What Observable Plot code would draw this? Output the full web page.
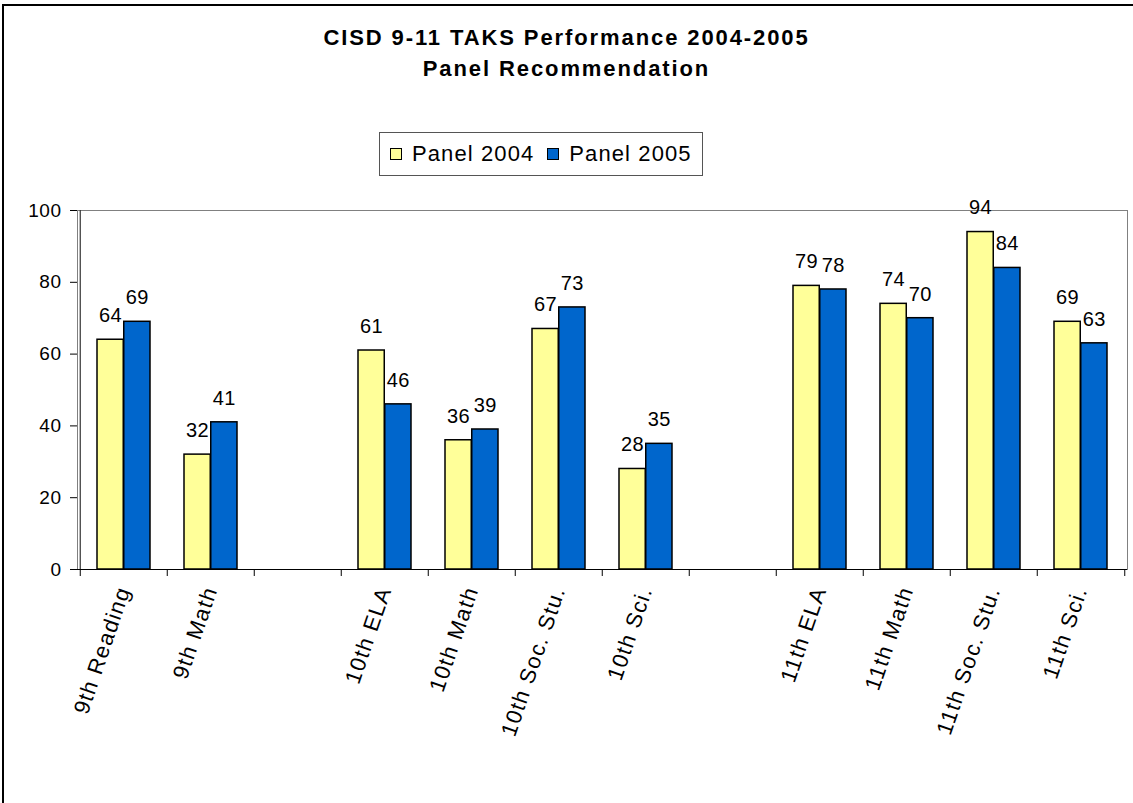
<!DOCTYPE html>
<html>
<head>
<meta charset="utf-8">
<script src="https://cdn.jsdelivr.net/npm/d3@7"></script>
<script src="https://cdn.jsdelivr.net/npm/@observablehq/plot@0.6"></script>
<style>
  html, body { margin: 0; padding: 0; background: #fff; width: 1133px; height: 803px; overflow: hidden; }
  body { font-family: "Liberation Sans", Arial, sans-serif; position: relative; }
  #frame { position: absolute; left: 2px; top: 4px; width: 1200px; height: 900px; border-top: 2px solid #000; border-left: 2px solid #000; box-sizing: border-box; pointer-events: none; z-index: 5; }
  #header { position: relative; height: 190px; }
  #title { position: absolute; left: 0; width: 1133px; top: 22px; text-align: center; font-weight: bold; font-size: 22px; line-height: 31px; letter-spacing: 1.9px; color: #000; }
  #legend { position: absolute; left: 379px; top: 132px; width: 322px; height: 42px; border: 1px solid #555; box-sizing: content-box; display: flex; align-items: center; font-size: 22px; letter-spacing: 1.1px; }
  .item { display: flex; align-items: center; margin-left: 10px; }
  .item + .item { margin-left: 13px; }
  .sw { width: 10px; height: 10px; border: 1px solid #000; margin-right: 10px; }
  #chart { position: relative; }
  #chart svg { letter-spacing: 0.5px; }
  #chart svg g[aria-label="x-axis tick label"] { letter-spacing: 1.3px; }
</style>
</head>
<body>
<div id="frame"></div>
<div id="header">
  <div id="title">CISD 9-11 TAKS Performance 2004-2005<br>Panel Recommendation</div>
  <div id="legend"></div>
</div>
<div id="chart"></div>
<script>
// ---- data ----
const slots = ["9th Reading", "9th Math", " ", "10th ELA", "10th Math", "10th Soc. Stu.", "10th Sci.", "  ", "11th ELA", "11th Math", "11th Soc. Stu.", "11th Sci."];
const categories = ["9th Reading", "9th Math", "10th ELA", "10th Math", "10th Soc. Stu.", "10th Sci.", "11th ELA", "11th Math", "11th Soc. Stu.", "11th Sci."];
const panel2004 = [64, 32, 61, 36, 67, 28, 79, 74, 94, 69];
const panel2005 = [69, 41, 46, 39, 73, 35, 78, 70, 84, 63];
const seriesNames = ["Panel 2004", "Panel 2005"];
const seriesColors = ["#FFFF99", "#0066CC"];
const yTicks = [0, 20, 40, 60, 80, 100];

const d2004 = categories.map((c, i) => ({cat: c, value: panel2004[i]}));
const d2005 = categories.map((c, i) => ({cat: c, value: panel2005[i]}));

// legend
const legend = document.getElementById("legend");
seriesNames.forEach((s, i) => {
  const it = document.createElement("div");
  it.className = "item";
  const sw = document.createElement("div");
  sw.className = "sw";
  sw.style.background = seriesColors[i];
  const t = document.createElement("span");
  t.textContent = s;
  it.appendChild(sw); it.appendChild(t);
  legend.appendChild(it);
});

// layout
const W = 1133, H = 613, mL = 77, mR = 6, mT = 20, mB = 234;
const step = (W - mL - mR) / slots.length;
const padOut = 17, barW = (step - 2 * padOut) / 2;
const lblOff = barW / 2;

const fontFamily = '"Liberation Sans", Arial, sans-serif';

const chart = Plot.plot({
  width: W,
  height: H,
  marginLeft: mL,
  marginRight: mR,
  marginTop: mT,
  marginBottom: mB,
  style: {fontFamily, fontSize: "19px", color: "#000", background: "transparent"},
  x: {domain: slots, paddingInner: 0, paddingOuter: 0, label: null},
  y: {domain: [0, 100], label: null},
  marks: [
    Plot.frame({stroke: "#808080"}),
    Plot.barY(d2004, {x: "cat", y: "value", fill: seriesColors[0], stroke: "#000", strokeWidth: 1.5, insetLeft: padOut, insetRight: step - padOut - barW}),
    Plot.barY(d2005, {x: "cat", y: "value", fill: seriesColors[1], stroke: "#000", strokeWidth: 1.5, insetLeft: padOut + barW, insetRight: padOut}),
    Plot.text(d2004, {x: "cat", y: "value", text: d => String(d.value), dx: -lblOff, dy: -24, fontSize: 20, fill: "#000"}),
    Plot.text(d2005, {x: "cat", y: "value", text: d => String(d.value), dx: lblOff, dy: -24, fontSize: 20, fill: "#000"}),
    // left axis line
    Plot.ruleX([slots[0]], {dx: -step / 2, y1: 0, y2: 100, stroke: "#333", strokeWidth: 1.2}),
    // baseline
    Plot.ruleY([0], {stroke: "#000", strokeWidth: 1.2}),
    // category boundary ticks
    Plot.ruleX(slots, {dx: -step / 2, y1: 0, y2: 0, insetBottom: -7, stroke: "#000"}),
    Plot.ruleX([slots[slots.length - 1]], {dx: step / 2, y1: 0, y2: 0, insetBottom: -7, stroke: "#000"}),
    Plot.axisY({ticks: yTicks, tickSize: 7, tickPadding: 9, fontSize: 19, stroke: "#000", fill: "#000", tickFormat: d => String(d)}),
    Plot.axisX({tickSize: 0, tickPadding: 18, tickRotate: -71, fontSize: 22, fill: "#000", tickFormat: d => d.trim()})
  ]
});
document.getElementById("chart").appendChild(chart);
</script>
</body>
</html>
